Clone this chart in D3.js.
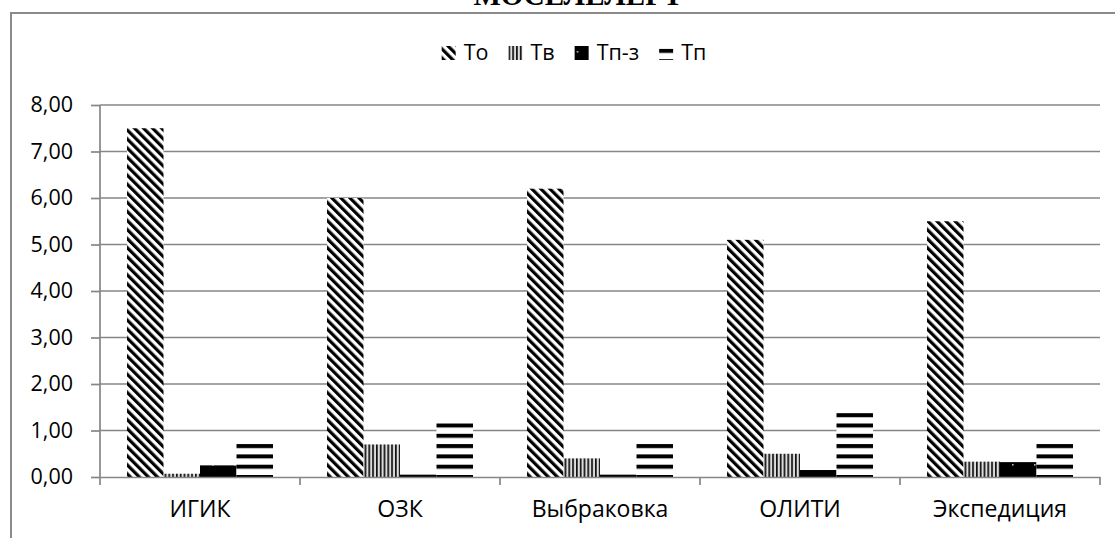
<!DOCTYPE html>
<html>
<head>
<meta charset="utf-8">
<script src="https://cdn.jsdelivr.net/npm/d3@7"></script>
<style>
  html, body { margin: 0; padding: 0; background: #fff; overflow: hidden; }
  svg { display: block; }
  text { font-family: "Open Sans", "Noto Sans", sans-serif; fill: #000; }
</style>
</head>
<body>
<div id="chart"></div>
<script>
// --- chart data ---
const titleText = "МОСЕЛЕЛЕРТ";
const categories = ["ИГИК", "ОЗК", "Выбраковка", "ОЛИТИ", "Экспедиция"];
const seriesNames = ["То", "Тв", "Тп-з", "Тп"];
const valuesTo  = [7.5, 6.0, 6.2, 5.1, 5.5];
const valuesTv  = [0.07, 0.7, 0.4, 0.5, 0.33];
const valuesTpz = [0.25, 0.05, 0.05, 0.15, 0.32];
const valuesTp  = [0.77, 1.16, 0.77, 1.41, 0.77];
const yTicks = [0, 1, 2, 3, 4, 5, 6, 7, 8];

const seriesValues = [valuesTo, valuesTv, valuesTpz, valuesTp];
const patternIds = ["pTo", "pTv", "pTpz", "pTp"];

function renderChart() {
    const width = 1115, height = 538;
    const margin = { top: 105, right: 15, bottom: 61, left: 100 };
    const plotW = width - margin.left - margin.right;   // 1000
    const plotH = height - margin.top - margin.bottom;  // 372

    const svg = d3.select("#chart").append("svg")
        .attr("width", width)
        .attr("height", height);

    // patterns
    const defs = svg.append("defs");
    const base = margin.top + plotH;

    const pTo = defs.append("pattern").attr("id", "pTo")
        .attr("patternUnits", "userSpaceOnUse")
        .attr("width", 6.4).attr("height", 6.4)
        .attr("patternTransform", "rotate(-45)");
    pTo.append("rect").attr("width", 6.4).attr("height", 6.4).attr("fill", "#fff");
    pTo.append("rect").attr("width", 3.2).attr("height", 6.4).attr("fill", "#000");

    const pTv = defs.append("pattern").attr("id", "pTv")
        .attr("patternUnits", "userSpaceOnUse")
        .attr("width", 3.8).attr("height", 4);
    pTv.append("rect").attr("width", 3.8).attr("height", 4).attr("fill", "#ddd");
    pTv.append("rect").attr("width", 1.7).attr("height", 4).attr("fill", "#111");

    const pTpz = defs.append("pattern").attr("id", "pTpz")
        .attr("patternUnits", "userSpaceOnUse")
        .attr("x", 0).attr("y", base - 6)
        .attr("width", 22).attr("height", 16);
    pTpz.append("rect").attr("width", 22).attr("height", 16).attr("fill", "#000");
    pTpz.append("rect").attr("x", 2).attr("y", 0).attr("width", 1.6).attr("height", 1.6).attr("fill", "#bbb");

    const pTp = defs.append("pattern").attr("id", "pTp")
        .attr("patternUnits", "userSpaceOnUse")
        .attr("x", 0).attr("y", base - 4)
        .attr("width", 10).attr("height", 10.3);
    pTp.append("rect").attr("width", 10).attr("height", 10.3).attr("fill", "#fff");
    pTp.append("rect").attr("width", 10).attr("height", 4).attr("fill", "#000");

    // outer frame (cut by the window on the right and bottom)
    svg.append("rect")
        .attr("x", 11).attr("y", 13)
        .attr("width", 1200).attr("height", 600)
        .attr("fill", "#fff")
        .attr("stroke", "#8a8a8a")
        .attr("stroke-width", 2);

    // title, mostly cropped above the frame like in the source
    svg.append("text")
        .attr("x", 578).attr("y", 5)
        .attr("text-anchor", "middle")
        .style("font-family", "'Liberation Serif', serif")
        .style("font-weight", "bold")
        .style("font-size", "29px")
        .text(titleText);

    const chart = svg.append("g")
        .attr("transform", `translate(${margin.left},${margin.top})`);

    const x0 = d3.scaleBand().domain(categories).range([0, plotW]).padding(0);
    const x1 = d3.scaleBand().domain(seriesNames).range([0, x0.bandwidth()])
        .paddingInner(0).paddingOuter(0.74);
    const y = d3.scaleLinear().domain([0, 8]).range([plotH, 0]);

    const fmt = d3.formatLocale({ decimal: ",", thousands: " ", grouping: [3], currency: ["", ""] }).format(".2f");

    // gridlines
    chart.append("g").selectAll("line")
        .data(yTicks.filter(t => t > 0))
        .enter().append("line")
        .attr("x1", 0).attr("x2", plotW)
        .attr("y1", t => y(t)).attr("y2", t => y(t))
        .attr("stroke", "#868686")
        .attr("stroke-width", 1.7);

    // y axis
    const yAxis = chart.append("g")
        .call(d3.axisLeft(y).tickValues(yTicks).tickSize(9).tickPadding(18).tickFormat(fmt));
    yAxis.select(".domain").attr("stroke", "#868686").attr("stroke-width", 1.7).attr("d", `M0,0V${plotH}`);
    yAxis.selectAll(".tick line").attr("stroke", "#868686").attr("stroke-width", 1.7);
    yAxis.selectAll("text").style("font-size", "21.5px").style("font-family", "'Open Sans', sans-serif");

    // bars
    const groups = chart.selectAll(".grp")
        .data(categories)
        .enter().append("g")
        .attr("class", "grp")
        .attr("transform", c => `translate(${x0(c)},0)`);

    groups.selectAll("rect")
        .data((c, ci) => seriesNames.map((s, si) => ({ s, si, v: seriesValues[si][ci], ci })))
        .enter().append("rect")
        .attr("x", d => x1(d.s))
        .attr("width", x1.bandwidth())
        .attr("y", d => y(d.v))
        .attr("height", d => y(0) - y(d.v))
        .attr("fill", d => `url(#${patternIds[d.si]})`);

    // x axis baseline and category boundary ticks
    const xAxis = chart.append("g")
        .attr("transform", `translate(0,${plotH})`)
        .call(d3.axisBottom(x0).tickSize(0).tickPadding(24));
    xAxis.select(".domain").attr("stroke", "#868686").attr("stroke-width", 1.7);
    xAxis.selectAll("text").style("font-size", "23px").style("font-family", "'Open Sans', sans-serif");

    const bounds = categories.map(c => x0(c)).concat([plotW]);
    xAxis.selectAll(".bound")
        .data(bounds)
        .enter().append("line")
        .attr("class", "bound")
        .attr("x1", b => b).attr("x2", b => b)
        .attr("y1", 0).attr("y2", 8)
        .attr("stroke", "#868686")
        .attr("stroke-width", 1.7);

    // legend
    const legend = svg.append("g").attr("transform", "translate(0,60)");
    const items = legend.selectAll(".item")
        .data(seriesNames)
        .enter().append("g")
        .attr("class", "item");
    items.append("rect")
        .attr("y", -14).attr("width", 14).attr("height", 14)
        .attr("fill", (d, i) => `url(#${patternIds[i]})`);
    items.append("text")
        .attr("x", 22)
        .style("font-size", "21.5px")
        .text(d => d);

    let cx = 0;
    const offsets = [];
    items.each(function(d) {
        const w = this.querySelector("text").getComputedTextLength();
        offsets.push(cx);
        cx += 22 + w + 20;
    });
    const total = cx - 20;
    const startX = 574 - total / 2;
    items.attr("transform", (d, i) => `translate(${startX + offsets[i]},0)`);
}

document.addEventListener("DOMContentLoaded", renderChart);
</script>
</body>
</html>
